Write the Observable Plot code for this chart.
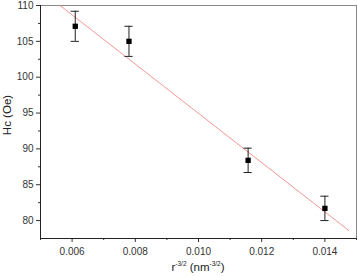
<!DOCTYPE html>
<html>
<head>
<meta charset="utf-8">
<script src="https://cdn.jsdelivr.net/npm/d3@7"></script>
<script src="https://cdn.jsdelivr.net/npm/@observablehq/plot@0.6"></script>
<style>
  html, body { margin: 0; padding: 0; background: #fff; }
  #chart svg { display: block; }
</style>
</head>
<body>
<div id="chart"></div>
<script>
// Data
const rInv = [0.0061, 0.0078, 0.01157, 0.0140];   // r^-3/2 (nm^-3/2)
const hc = [107.1, 105.0, 88.4, 81.7];             // Hc (Oe)
const hcErr = [2.1, 2.1, 1.7, 1.7];                // error bar half-length
const fitX = [0.00562, 0.01476];                   // linear fit endpoints
const fitY = [110.0, 78.6];
const xTicks = [0.006, 0.008, 0.010, 0.012, 0.014];
const xMinor = [0.005, 0.007, 0.009, 0.011, 0.013, 0.015];
const yTicks = [80, 85, 90, 95, 100, 105, 110];
const yMinor = [82.5, 87.5, 92.5, 97.5, 102.5, 107.5];

const points = rInv.map((x, i) => ({x, y: hc[i], e: hcErr[i]}));
const fit = fitX.map((x, i) => ({x, y: fitY[i]}));
const capHalf = 0.00013;

const font = "Liberation Sans, Arial, sans-serif";
const plot = Plot.plot({
  width: 357,
  height: 277,
  marginLeft: 40,
  marginTop: 5,
  marginRight: 1,
  marginBottom: 39,
  style: {fontFamily: font, fontSize: "10px", color: "#333", background: "#fff"},
  x: {domain: [0.005, 0.015]},
  y: {domain: [77.5, 110]},
  marks: [
    Plot.frame({stroke: "#888", strokeWidth: 1}),
    Plot.axisX(xTicks, {tickSize: 4, tickFormat: d3.format(".3f"), label: null, tickPadding: 5, stroke: "#333", color: "#333"}),
    Plot.axisX(xMinor, {tickSize: 2, tickFormat: () => "", label: null, stroke: "#333"}),
    Plot.axisY(yTicks, {tickSize: 4, label: null, tickPadding: 3, stroke: "#333", color: "#333"}),
    Plot.axisY(yMinor, {tickSize: 2, tickFormat: () => "", label: null, stroke: "#333"}),
    Plot.ruleX([0.005], {stroke: "#222"}),
    Plot.ruleY([77.5], {stroke: "#222"}),
    Plot.line(fit, {x: "x", y: "y", stroke: "#f08a8a", strokeWidth: 0.9}),
    Plot.ruleX(points, {x: "x", y1: d => d.y - d.e, y2: d => d.y + d.e, stroke: "#222", strokeWidth: 1}),
    Plot.ruleY(points, {y: d => d.y - d.e, x1: d => d.x - capHalf, x2: d => d.x + capHalf, stroke: "#222"}),
    Plot.ruleY(points, {y: d => d.y + d.e, x1: d => d.x - capHalf, x2: d => d.x + capHalf, stroke: "#222"}),
    Plot.dot(points, {x: "x", y: "y", symbol: "square", r: 3, fill: "#000", stroke: "none"})
  ]
});
document.getElementById("chart").appendChild(plot);

// Axis titles with superscripts
const svg = d3.select(plot);
const xl = svg.append("text")
  .attr("x", 198).attr("y", 271)
  .attr("text-anchor", "middle")
  .attr("font-family", font).attr("font-size", 11.5).attr("fill", "#222");
xl.append("tspan").text("r");
xl.append("tspan").attr("font-size", 6.5).attr("dy", -5).text("-3/2");
xl.append("tspan").attr("dy", 5).text(" (nm");
xl.append("tspan").attr("font-size", 6.5).attr("dy", -5).text("-3/2");
xl.append("tspan").attr("dy", 5).text(")");

svg.append("text")
  .attr("transform", "translate(11,115) rotate(-90)")
  .attr("text-anchor", "middle")
  .attr("font-family", font).attr("font-size", 11.5).attr("fill", "#222")
  .text("Hc (Oe)");
</script>
</body>
</html>
